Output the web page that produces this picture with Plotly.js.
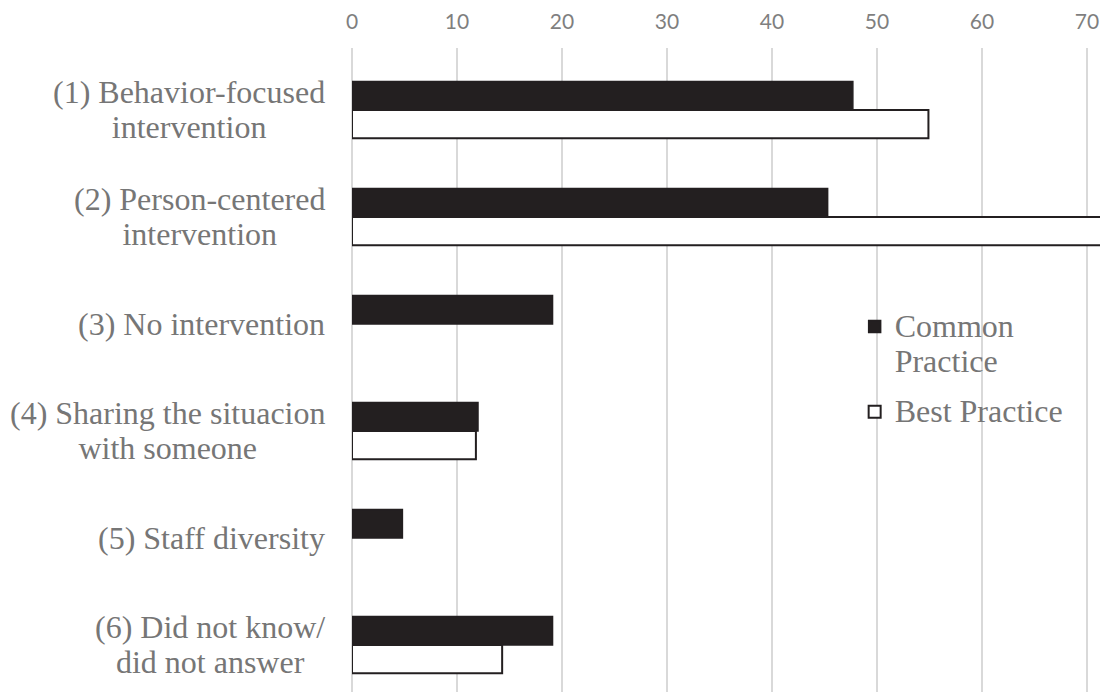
<!DOCTYPE html>
<html>
<head>
<meta charset="utf-8">
<script src="https://cdn.plot.ly/plotly-3.0.1.min.js"></script>
<style>html,body{margin:0;padding:0;background:#fff;}#chart{width:1100px;height:692px;}</style>
</head>
<body>
<div id="chart"></div>
<script>
const categories = [
  "(1) Behavior-focused<br>intervention",
  "(2) Person-centered<br>intervention",
  "(3) No intervention",
  "(4) Sharing the situacion<br>with someone",
  "(5) Staff diversity",
  "(6) Did not know/<br>did not answer"
];
const commonPractice = [47.7, 45.3, 19.1, 12.0, 4.8, 19.1];
const bestPractice = [54.9, 76.2, null, 11.8, null, 14.3];
const seriesNames = ["Common<br>Practice", "Best Practice"];
const xTicks = [0, 10, 20, 30, 40, 50, 60, 70];

// base size sets the line spacing (1.3 x 27 = 35 px); glyphs are drawn at 32 px
const labelFont = {family: "\"Liberation Serif\", \"DejaVu Serif\", serif", size: 27, color: "#767676"};
const big = s => s.split("<br>").map(l => "<span style=\"font-size:32px\">" + l + "</span>").join("<br>");
const ink = "#231f20";

const traces = [
  {type: "bar", orientation: "h", name: big(seriesNames[0]), legendgroup: "a", y: categories, x: commonPractice,
   marker: {color: ink, line: {color: ink, width: 1.5}}, hoverinfo: "x"},
  {type: "bar", orientation: "h", name: big(seriesNames[1]), legendgroup: "b", y: categories, x: bestPractice,
   marker: {color: "#ffffff", line: {color: ink, width: 2}}, hoverinfo: "x"}
];

const annotations = categories.map(c => ({
  x: 0, xref: "paper", y: c, yref: "y", xanchor: "right", yanchor: "middle",
  xshift: -25, text: big(c), showarrow: false, align: "center", font: labelFont
}));

const layout = {
  width: 1100, height: 692,
  margin: {l: 352, r: 0, t: 48, b: 0, pad: 0},
  paper_bgcolor: "#ffffff", plot_bgcolor: "#ffffff",
  barmode: "group", bargap: 0.47, bargroupgap: 0,
  showlegend: true,
  legend: {x: 0.672, xanchor: "left", y: 0.605, yanchor: "top", font: labelFont,
           bgcolor: "rgba(0,0,0,0)", traceorder: "grouped", tracegroupgap: 12, valign: "top"},
  xaxis: {side: "top", range: [0, 71.24], tickvals: xTicks, ticktext: xTicks.map(String),
          showgrid: true, gridcolor: "#d9d9d9", gridwidth: 1.5,
          zeroline: true, zerolinecolor: "#d9d9d9", zerolinewidth: 1.5,
          showline: false, ticks: "", ticklabelstandoff: 14,
          tickfont: {family: "Lato, sans-serif", size: 21, color: "#7f7f7f"},
          fixedrange: true},
  yaxis: {type: "category", categoryorder: "array", categoryarray: categories,
          range: [5.44, -0.579], showticklabels: false, showgrid: false, zeroline: false,
          showline: false, ticks: "", fixedrange: true},
  annotations: annotations
};

Plotly.newPlot("chart", traces, layout, {displayModeBar: false, staticPlot: true});
</script>
</body>
</html>
